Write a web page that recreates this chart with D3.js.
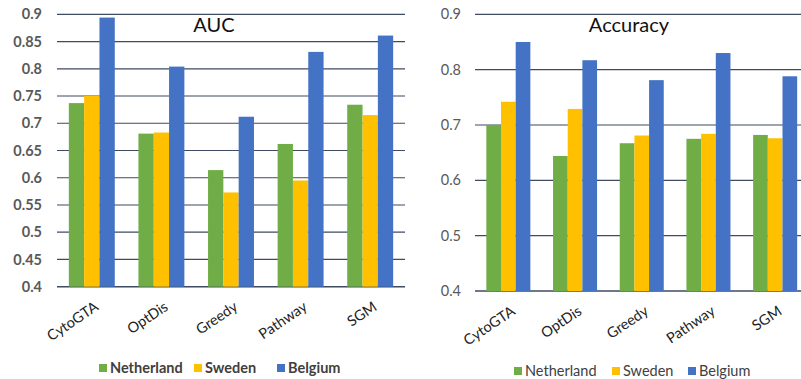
<!DOCTYPE html>
<html>
<head>
<meta charset="utf-8">
<script src="https://cdn.jsdelivr.net/npm/d3@7"></script>
<style>
  html, body { margin: 0; padding: 0; background: #fff; }
  svg { display: block; }
</style>
</head>
<body>
<svg id="chart" width="801" height="379"></svg>
<script>
// Methods compared on each cohort
const methods = ["CytoGTA", "OptDis", "Greedy", "Pathway", "SGM"];
const cohorts = ["Netherland", "Sweden", "Belgium"];
const cohortColors = ["#70AD47", "#FFC000", "#4472C4"];

// AUC per method, one array per cohort
const aucNetherland = [0.737, 0.681, 0.614, 0.662, 0.734];
const aucSweden     = [0.750, 0.683, 0.573, 0.595, 0.715];
const aucBelgium    = [0.894, 0.804, 0.712, 0.831, 0.861];
const aucTicks = [0.4, 0.45, 0.5, 0.55, 0.6, 0.65, 0.7, 0.75, 0.8, 0.85, 0.9];

// Accuracy per method, one array per cohort
const accNetherland = [0.700, 0.644, 0.667, 0.675, 0.682];
const accSweden     = [0.742, 0.729, 0.681, 0.684, 0.676];
const accBelgium    = [0.850, 0.817, 0.781, 0.830, 0.788];
const accTicks = [0.4, 0.5, 0.6, 0.7, 0.8, 0.9];

const svg = d3.select("#chart");
const FONT = "Lato, 'Open Sans', sans-serif";
const gridColor = "#3E4B61";

function panel(cfg) {
  const g = svg.append("g");
  const x = d3.scaleBand().domain(methods).range([cfg.x0, cfg.x1]).paddingInner(0.34).paddingOuter(0.17);
  const xs = d3.scaleBand().domain(cohorts).range([0, x.bandwidth()]);
  const y = d3.scaleLinear().domain([0.4, 0.9]).range([cfg.yBottom, cfg.yTop]);

  // horizontal gridlines
  g.append("g").selectAll("line").data(cfg.ticks).join("line")
    .attr("x1", cfg.x0).attr("x2", cfg.x1)
    .attr("y1", d => y(d)).attr("y2", d => y(d))
    .attr("stroke", gridColor)
    .attr("stroke-width", d => d === 0.4 ? 1.6 : 1.2);

  // y tick labels
  g.append("g").selectAll("text").data(cfg.ticks).join("text")
    .attr("x", cfg.labelX).attr("y", d => y(d))
    .attr("dy", "0.35em")
    .attr("text-anchor", "end")
    .attr("font-family", FONT)
    .attr("font-size", 14.5)
    .attr("font-weight", cfg.bold ? 700 : 400)
    .attr("fill", "#595959")
    .text(d => d3.format("")(d));

  // bars
  const rows = methods.map((m, i) => ({ m, vals: cfg.series.map(s => s[i]) }));
  const grp = g.append("g").selectAll("g").data(rows).join("g")
    .attr("transform", d => `translate(${x(d.m)},0)`);
  grp.selectAll("rect").data(d => d.vals.map((v, k) => ({ v, c: cohorts[k], k }))).join("rect")
    .attr("x", d => xs(d.c))
    .attr("width", xs.bandwidth())
    .attr("y", d => y(d.v))
    .attr("height", d => y(0.4) - y(d.v))
    .attr("fill", d => cohortColors[d.k]);

  // rotated category labels
  g.append("g").selectAll("text").data(methods).join("text")
    .attr("transform", d => `translate(${x(d) + x.bandwidth() / 2 + 2},${cfg.yBottom + 14}) rotate(-34)`)
    .attr("text-anchor", "end")
    .attr("dy", "0.7em")
    .attr("font-family", FONT)
    .attr("font-size", 14.5)
    .attr("fill", "#222")
    .text(d => d);

  // title
  g.append("text")
    .attr("x", cfg.titleX).attr("y", 32)
    .attr("text-anchor", "middle")
    .attr("font-family", FONT)
    .attr("font-size", 20)
    .attr("fill", "#111")
    .text(cfg.title);

  // legend
  const leg = g.append("g").selectAll("g").data(cohorts).join("g")
    .attr("transform", (d, i) => `translate(${cfg.legendX[i]},${cfg.legendY})`);
  leg.append("rect").attr("x", 0).attr("y", -4).attr("width", 8).attr("height", 8)
    .attr("fill", (d, i) => cohortColors[i]);
  leg.append("text").attr("x", 11).attr("y", 0).attr("dy", "0.36em")
    .attr("font-family", FONT)
    .attr("font-size", 14.5)
    .attr("font-weight", cfg.bold ? 700 : 400)
    .attr("fill", "#404040")
    .text(d => d);
}

panel({
  title: "AUC", titleX: 214,
  x0: 57, x1: 405, yTop: 14.3, yBottom: 286.7, labelX: 42,
  ticks: aucTicks, bold: true,
  series: [aucNetherland, aucSweden, aucBelgium],
  legendX: [99, 194, 277], legendY: 368
});

panel({
  title: "Accuracy", titleX: 629,
  x0: 475, x1: 808.5, yTop: 14.3, yBottom: 291, labelX: 461,
  ticks: accTicks, bold: false,
  series: [accNetherland, accSweden, accBelgium],
  legendX: [514, 612, 688], legendY: 371
});
</script>
</body>
</html>
